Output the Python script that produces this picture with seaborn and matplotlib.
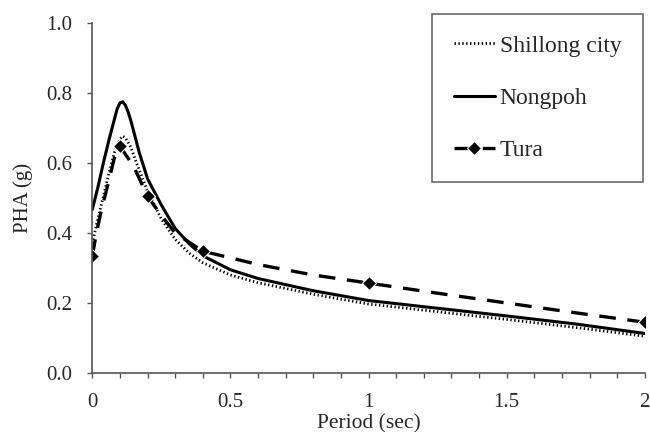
import numpy as np
import pandas as pd
import matplotlib
matplotlib.use("Agg")
import matplotlib.pyplot as plt
import seaborn as sns

# values
shillong_period = [0, 0.02, 0.04, 0.06, 0.08, 0.1, 0.11, 0.12, 0.14, 0.16, 0.2, 0.25, 0.3, 0.35, 0.4, 0.5, 0.6, 0.8, 1.0, 1.25, 1.5, 1.75, 2.0]
shillong_pha = [0.37, 0.44, 0.505, 0.57, 0.63, 0.668, 0.677, 0.672, 0.645, 0.60, 0.52, 0.44, 0.382, 0.343, 0.315, 0.28, 0.258, 0.225, 0.197, 0.175, 0.153, 0.13, 0.105]

nongpoh_period = [0, 0.02, 0.04, 0.06, 0.08, 0.09, 0.1, 0.11, 0.12, 0.13, 0.14, 0.15, 0.17, 0.2, 0.25, 0.3, 0.35, 0.4, 0.5, 0.6, 0.8, 1.0, 1.25, 1.5, 1.75, 2.0]
nongpoh_pha = [0.467, 0.53, 0.60, 0.665, 0.725, 0.755, 0.772, 0.775, 0.765, 0.745, 0.72, 0.69, 0.63, 0.555, 0.48, 0.413, 0.37, 0.335, 0.295, 0.27, 0.235, 0.207, 0.185, 0.163, 0.14, 0.113]

tura_period = [0, 0.015, 0.03, 0.06, 0.08, 0.1, 0.15, 0.2, 0.25, 0.3, 0.4, 0.6, 0.8, 1.0, 1.25, 1.5, 1.75, 2.0]
tura_pha = [0.335, 0.40, 0.455, 0.55, 0.615, 0.648, 0.59, 0.505, 0.45, 0.40, 0.348, 0.31, 0.28, 0.257, 0.228, 0.20, 0.172, 0.145]
tura_marked = [0, 0.1, 0.2, 0.4, 1.0, 2.0]

sns.set_style("ticks")
plt.rcParams['font.family'] = ['Liberation Serif', 'DejaVu Serif']

fig = plt.figure(figsize=(6.5, 4.32), dpi=100)
ax = fig.add_axes([0.142, 0.1366, 0.85, 0.81])

sns.lineplot(x=shillong_period, y=shillong_pha, ax=ax, color='black',
             linestyle=(0, (0.5, 0.9)), linewidth=2.0, label='Shillong city')
sns.lineplot(x=nongpoh_period, y=nongpoh_pha, ax=ax, color='black',
             linestyle='-', linewidth=2.2, label='Nongpoh')
marks = [tura_period.index(p) for p in tura_marked]
sns.lineplot(x=tura_period, y=tura_pha, ax=ax, color='black',
             linestyle=(0, (5, 3.5)), linewidth=2.4, marker='D', markersize=7,
             markevery=marks, label='Tura')

ax.set_xlim(0, 2)
ax.set_ylim(0, 1.0)
ax.set_xticks([0, 0.5, 1, 1.5, 2])
ax.set_xticklabels(['0', '0.5', '1', '1.5', '2'])
ax.set_xticks(np.arange(0, 2.01, 0.1), minor=True)
ax.set_yticks(np.arange(0, 1.01, 0.2))
ax.set_yticklabels([f'{v:.1f}' for v in np.arange(0, 1.01, 0.2)])
ax.tick_params(axis='x', which='major', direction='out', length=3.5, width=1,
               labelsize=15, pad=11, colors='#555555', labelcolor='#262626')
ax.tick_params(axis='x', which='minor', direction='out', length=3.5, width=1, colors='#555555')
ax.tick_params(axis='y', which='major', direction='out', length=3.5, width=1,
               labelsize=15, pad=11, colors='#555555', labelcolor='#262626')
for s in ['left', 'bottom']:
    ax.spines[s].set_color('#555555')
    ax.spines[s].set_linewidth(1.2)
sns.despine(ax=ax)

ax.set_xlabel('Period (sec)', fontsize=15.5, color='#262626')
ax.set_ylabel('PHA (g)', fontsize=15, color='#262626')
ax.xaxis.set_label_coords(0.5, -0.117)
ax.yaxis.set_label_coords(-0.108, 0.5)

leg = ax.legend(loc='upper right', bbox_to_anchor=(0.996, 1.026), borderaxespad=0,
                fontsize=17, frameon=True, fancybox=False, handlelength=1.75,
                handletextpad=0.2, labelspacing=1.3, borderpad=0.9)
leg.get_frame().set_edgecolor('#444444')
leg.get_frame().set_linewidth(1.2)
for t in leg.get_texts():
    t.set_color('#262626')

fig.savefig('out.png', dpi=100)
